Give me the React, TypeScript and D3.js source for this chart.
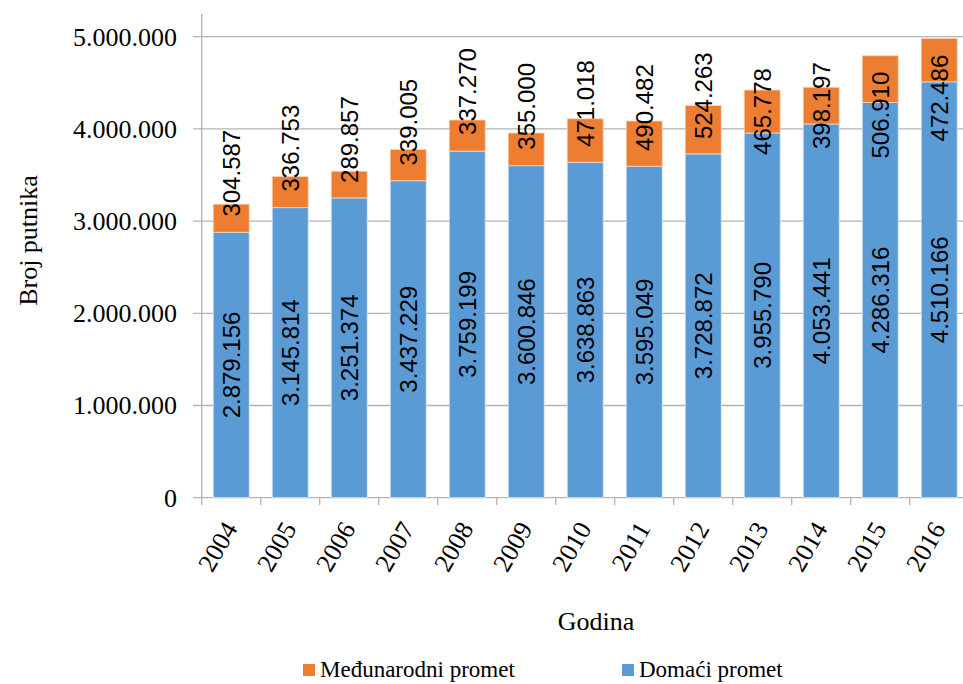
import React from "react";
import * as d3 from "d3";

const years = ["2004","2005","2006","2007","2008","2009","2010","2011","2012","2013","2014","2015","2016"];
const domestic = [2879156, 3145814, 3251374, 3437229, 3759199, 3600846, 3638863, 3595049, 3728872, 3955790, 4053441, 4286316, 4510166];
const international = [304587, 336753, 289857, 339005, 337270, 355000, 471018, 490482, 524263, 465778, 398197, 506910, 472486];
const yTicks = [0, 1000000, 2000000, 3000000, 4000000, 5000000];
const seriesNames = ["Međunarodni promet", "Domaći promet"];

// manual label shifts (px) as placed in the original chart
const intlLabelShift = [-45, -44, -45, -43, -44, -43, -37, -36, -34, 0, 0, 36, 38];

const W = 963, H = 684;
const FONT = "'Liberation Serif', 'Times New Roman', serif";
const LABEL_FONT = "'Liberation Sans', Arial, sans-serif";
const BLUE = "#5B9BD5";
const ORANGE = "#ED7D31";
const GRID = "#B3B3B3";

const locale = d3.formatLocale({ decimal: ",", thousands: ".", grouping: [3], currency: ["", ""] });
const fmt = locale.format(",d");

export default function App() {
  const x0 = 201.7;
  const step = 59;
  const x = d3.scaleBand().domain(years).range([x0, x0 + step * years.length]).paddingInner(0.39).paddingOuter(0.195);
  const y = d3.scaleLinear().domain([0, 5000000]).range([497.7, 36.7]);
  const bw = x.bandwidth();
  const right = x0 + step * years.length;

  return (
    <svg width={W} height={H} style={{ position: "absolute", left: 0, top: 0, background: "#fff" }} fontFamily={FONT}>
      {/* gridlines */}
      {yTicks.map((t) => (
        <line key={"g" + t} x1={193} x2={right} y1={y(t)} y2={y(t)} stroke={GRID} strokeWidth={1.3} />
      ))}
      {/* y axis line */}
      <line x1={x0} x2={x0} y1={14} y2={505} stroke={GRID} strokeWidth={1.3} />
      {/* category ticks */}
      {years.map((yr, i) => (
        <line key={"ct" + yr} x1={x0 + step * (i + 1)} x2={x0 + step * (i + 1)} y1={y(0)} y2={505} stroke={GRID} strokeWidth={1.3} />
      ))}
      {/* bars */}
      {years.map((yr, i) => {
        const bx = x(yr)!;
        const d = domestic[i];
        const t = d + international[i];
        return (
          <g key={"b" + yr}>
            <rect x={bx} width={bw} y={y(d)} height={y(0) - y(d)} fill={BLUE} stroke="#DCE8F5" strokeWidth={0.8} />
            <rect x={bx} width={bw} y={y(t)} height={y(d) - y(t)} fill={ORANGE} stroke="#F8D5BE" strokeWidth={0.8} />
          </g>
        );
      })}
      {/* data labels */}
      {years.map((yr, i) => {
        const cx = x(yr)! + bw / 2;
        const d = domestic[i];
        const t = d + international[i];
        const cyD = (y(0) + y(d)) / 2;
        const cyI = (y(d) + y(t)) / 2 + intlLabelShift[i];
        return (
          <g key={"l" + yr} fontSize={24} fill="#000" fontFamily={LABEL_FONT}>
            <text transform={`translate(${cx},${cyD}) rotate(-90)`} textAnchor="middle" dy="0.36em">{fmt(d)}</text>
            <text transform={`translate(${cx},${cyI}) rotate(-90)`} textAnchor="middle" dy="0.36em">{fmt(international[i])}</text>
          </g>
        );
      })}
      {/* y tick labels */}
      {yTicks.map((t) => (
        <text key={"yl" + t} x={177} y={y(t)} dy="0.34em" textAnchor="end" fontSize={26}>{fmt(t)}</text>
      ))}
      {/* x tick labels */}
      {years.map((yr) => {
        const cx = x(yr)! + bw / 2;
        return (
          <text key={"xl" + yr} transform={`translate(${cx + 7},${528.5}) rotate(-60)`} textAnchor="end" fontSize={26}>{yr}</text>
        );
      })}
      {/* axis titles */}
      <text x={596} y={630} textAnchor="middle" fontSize={26}>Godina</text>
      <text transform={`translate(36.7,240.5) rotate(-90)`} textAnchor="middle" fontSize={26}>Broj putnika</text>
      {/* legend */}
      <g fontSize={23}>
        <rect x={303} y={664} width={12} height={12} fill={ORANGE} />
        <text x={320} y={677}>{seriesNames[0]}</text>
        <rect x={622} y={664} width={12} height={12} fill={BLUE} />
        <text x={639} y={677}>{seriesNames[1]}</text>
      </g>
    </svg>
  );
}
